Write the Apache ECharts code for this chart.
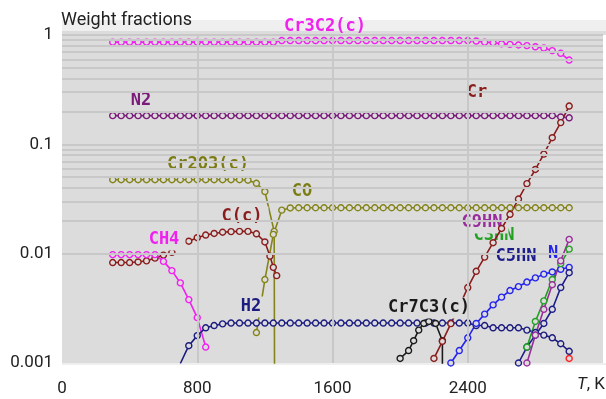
<!DOCTYPE html>
<html><head><meta charset="utf-8">
<script src="https://cdn.jsdelivr.net/npm/echarts@6/dist/echarts.min.js"></script>
<style>html,body{margin:0;padding:0;background:#fff}#c{width:606px;height:399px}</style>
</head><body><div id="c"></div>
<script>
// ---- axis ticks / gridlines ----
const xTicks = [0, 800, 1600, 2400];
const yTicks = [0.001, 0.01, 0.1, 1];
const hGrid = [0.002,0.003,0.004,0.005,0.006,0.007,0.008,0.009,0.01,
               0.02,0.03,0.04,0.05,0.06,0.07,0.08,0.09,0.1,
               0.2,0.3,0.4,0.5,0.6,0.7,0.8,0.9,1];
const vGrid = [800, 1600, 2400];

// ---- temperatures (K) ----
const tFull = [300,350,400,450,500,550,600,650,700,750,800,850,900,950,1000,1050,1100,1150,1200,1250,
  1300,1350,1400,1450,1500,1550,1600,1650,1700,1750,1800,1850,1900,1950,2000,2050,2100,2150,2200,2250,
  2300,2350,2400,2450,2500,2550,2600,2650,2700,2750,2800,2850,2900,2950,3000];

// ---- series values (weight fractions) ----
const cr3c2V = [0.86,0.86,0.86,0.86,0.86,0.86,0.86,0.86,0.86,0.86,0.86,0.86,0.86,0.86,0.86,0.86,0.86,0.86,0.86,0.86,
  0.89,0.89,0.89,0.89,0.89,0.89,0.89,0.89,0.89,0.89,0.89,0.89,0.89,0.89,0.89,0.89,0.89,0.89,0.89,0.89,0.89,0.89,0.89,
  0.88,0.86,0.85,0.83,0.82,0.81,0.80,0.78,0.76,0.72,0.68,0.59];
const n2V = [0.183,0.183,0.183,0.183,0.183,0.183,0.183,0.183,0.183,0.183,0.183,0.183,0.183,0.183,0.183,0.183,0.183,0.183,
  0.183,0.183,0.183,0.183,0.183,0.183,0.183,0.183,0.183,0.183,0.183,0.183,0.183,0.183,0.183,0.183,0.183,0.183,0.183,
  0.183,0.183,0.183,0.183,0.183,0.183,0.183,0.183,0.183,0.183,0.183,0.183,0.183,0.183,0.183,0.183,0.178,0.175];

const cr2o3T = [300,350,400,450,500,550,600,650,700,750,800,850,900,950,1000,1050,1100,1150,1200,1255,1262];
const cr2o3V = [0.0475,0.0475,0.0475,0.0475,0.0475,0.0475,0.0475,0.0475,0.0475,0.0475,0.0475,0.0475,0.0475,0.0475,
  0.0475,0.0475,0.047,0.044,0.037,0.016,0.000001];

const coT = [1150,1200,1250,1300,1350,1400,1450,1500,1550,1600,1650,1700,1750,1800,1850,1900,1950,2000,2050,2100,
  2150,2200,2250,2300,2350,2400,2450,2500,2550,2600,2650,2700,2750,2800,2850,2900,2950,3000];
const coV = [0.0019,0.0058,0.015,0.025,0.0262,0.0263,0.0263,0.0263,0.0263,0.0263,0.0263,0.0263,0.0263,0.0263,0.0263,
  0.0263,0.0263,0.0263,0.0263,0.0263,0.0263,0.0263,0.0263,0.0263,0.0263,0.0263,0.0263,0.0263,0.0263,0.0263,0.0263,
  0.0263,0.0263,0.0263,0.0263,0.0263,0.0263,0.0263];

const ccT = [300,350,400,450,500,550,600,650,700,750,800,850,900,950,1000,1050,1100,1150,1200,1230,1250,1270];
const ccV = [0.0083,0.0083,0.0083,0.0084,0.0086,0.0091,0.0097,0.0103,null,0.0130,0.0140,0.0148,0.0153,0.0157,
  0.0159,0.0160,0.0160,0.0152,0.0128,0.0095,0.0075,0.0063];

const ch4T = [300,350,400,450,500,550,600,650,700,750,800,850];
const ch4V = [0.0098,0.0098,0.0098,0.0098,0.0098,0.0098,0.0085,0.0070,0.0054,0.0038,0.0026,0.0014];

const h2T = [700,750,800,850,900,950,1000,1050,1100,1150,1200,1250,1300,1350,1400,1450,1500,1550,1600,1650,1700,
  1750,1800,1850,1900,1950,2000,2050,2100,2150,2200,2250,2300,2350,2400,2450,2500,2550,2600,2650,2700,2750,2800,
  2850,2900,2950,3000];
const h2V = [0.00099,0.00144,0.00178,0.0021,0.0022,0.00228,0.00232,0.00232,0.00232,0.00232,0.00232,0.00232,0.00232,
  0.00232,0.00232,0.00232,0.00232,0.00232,0.00232,0.00232,0.00232,0.00232,0.00232,0.00232,0.00232,0.00232,0.00232,
  0.00232,0.00232,0.00232,0.00232,0.00232,0.00232,0.00232,0.00232,0.0022,0.0022,0.0021,0.0021,0.0021,0.0021,0.0020,
  0.0019,0.0018,0.0017,0.0015,0.00128];

const cr7c3T = [2000,2050,2080,2110,2140,2170,2210,2250,2252];
const cr7c3V = [0.0011,0.0013,0.0016,0.0020,0.0023,0.0024,0.0023,0.0016,0.000001];

const crT = [2200,2250,2300,2350,2400,2450,2500,2550,2600,2650,2700,2750,2800,2850,2900,2950,3000];
const crV = [0.0011,0.00158,0.00229,0.0033,0.0049,0.0069,0.0093,0.0126,0.017,0.0229,0.0316,0.0437,0.0589,0.0813,
  0.115,0.158,0.224];

const nT = [2300,2350,2400,2450,2500,2550,2600,2650,2700,2750,2800,2850,2900,2950,3000];
const nV = [0.001,0.0013,0.0017,0.0023,0.0028,0.0034,0.0040,0.0046,0.0050,0.0055,0.0060,0.0065,0.0068,0.0072,0.0075];

const c5hnT = [2700,2750,2800,2850,2900,2950,3000];
const c5hnV = [0.001,0.0014,0.0018,0.0023,0.0031,0.0049,0.0067];

const c3hnT = [2750,2800,2850,2900,2950,3000];
const c3hnV = [0.0014,0.0024,0.0037,0.0058,0.0081,0.011];

const c9hnT = [2750,2800,2850,2900,2950,3000];
const c9hnV = [0.001,0.0018,0.0031,0.0052,0.0086,0.0135];

const redT = [3000];
const redV = [0.0011];

// ---- styling ----
const BG = '#dcdcdc';
const seriesDefs = [
  {name:'N2', t:tFull, v:n2V, color:'#7a1a7a'},
  {name:'Cr3C2(c)', t:tFull, v:cr3c2V, color:'#f020f0'},
  {name:'Cr2O3(c)', t:cr2o3T, v:cr2o3V, color:'#84841a'},
  {name:'CO', t:coT, v:coV, color:'#84841a'},
  {name:'C(c)', t:ccT, v:ccV, color:'#8b1c1c'},
  {name:'CH4', t:ch4T, v:ch4V, color:'#f020f0'},
  {name:'H2', t:h2T, v:h2V, color:'#1c1c80'},
  {name:'Cr7C3(c)', t:cr7c3T, v:cr7c3V, color:'#1a1a1a'},
  {name:'N', t:nT, v:nV, color:'#2424ee'},
  {name:'C5HN', t:c5hnT, v:c5hnV, color:'#1c1c8a'},
  {name:'C3HN', t:c3hnT, v:c3hnV, color:'#22a022'},
  {name:'C9HN', t:c9hnT, v:c9hnV, color:'#992d9c'},
  {name:'Cr', t:crT, v:crV, color:'#8b1c1c'},
  {name:'other', t:redT, v:redV, color:'#ff2020'}
];

const labels = [
  {text:'Cr3C2(c)', x:325, y:27, color:'#f020f0', bg:false, z:3},
  {text:'N2', x:141, y:101, color:'#7a1a7a', bg:true, z:3},
  {text:'Cr', x:477, y:93, color:'#8b1c1c', bg:true, z:3},
  {text:'Cr2O3(c)', x:208, y:165, color:'#7c7c14', bg:true, z:3},
  {text:'CO', x:302, y:192, color:'#7c7c14', bg:true, z:3},
  {text:'C(c)', x:242, y:217, color:'#8b1c1c', bg:true, z:3},
  {text:'CH4', x:164, y:240, color:'#f020f0', bg:true, z:3},
  {text:'H2', x:251, y:307, color:'#1c1c80', bg:true, z:3},
  {text:'Cr7C3(c)', x:429, y:308, color:'#1a1a1a', bg:true, z:3},
  {text:'C3HN', x:494, y:236, color:'#22a022', bg:true, z:1.4},
  {text:'C9HN', x:482, y:223, color:'#992d9c', bg:true, z:1.5},
  {text:'C5HN', x:516, y:257, color:'#1c1c8a', bg:true, z:1.5},
  {text:'N', x:553, y:254, color:'#2424ee', bg:true, z:1.5}
];

const chart = echarts.init(document.getElementById('c'), null, {renderer:'canvas'});

const series = seriesDefs.map(d => ({
  name: d.name, type:'line', z:2, animation:false,
  data: d.t.map((x,i) => [x, d.v[i]]),
  symbol:'circle', symbolSize:6, showSymbol:true, clip:true,
  itemStyle:{color:BG, borderColor:d.color, borderWidth:1.4},
  lineStyle:{color:d.color, width:1.6},
  emphasis:{disabled:true}
}));

series.unshift({
  type:'line', data:[], z:1, animation:false, silent:true,
  markLine:{
    silent:true, symbol:['none','none'], animation:false,
    label:{show:false},
    lineStyle:{color:'#c8c8c8', width:2, type:'solid'},
    data: hGrid.map(v => ({yAxis:v})).concat(vGrid.map(v => ({xAxis:v})))
  }
});

const graphics = [
  {type:'rect', left:62, top:20, shape:{width:544, height:11}, style:{fill:'#efefef'}, z:0},
  {type:'rect', left:62, top:31, shape:{width:544, height:4}, style:{fill:BG}, z:0},
  {type:'rect', left:62, top:363, shape:{width:544, height:2}, style:{fill:'#efefef'}, z:0},
  {type:'text', x:61, y:20, z:4, style:{text:'Weight fractions', fill:'#222', font:'18px Roboto', align:'left', verticalAlign:'middle'}},
  {type:'text', x:605, y:385, z:4, style:{text:'{i|T}, K', fill:'#222', font:'17px Roboto', align:'right', verticalAlign:'middle',
     rich:{i:{fontStyle:'italic', fontFamily:'Roboto', fontSize:17, fill:'#222'}}}}
].concat(labels.map(l => ({
  type:'text', x:l.x, y:l.y, z:l.z,
  style:{text:l.text, fill:l.color, font:'bold 17px "DejaVu Sans Mono"', align:'center', verticalAlign:'middle',
    backgroundColor: l.bg ? BG : 'transparent', padding:[2,6]}
})));

chart.setOption({
  animation:false,
  grid:{left:62, right:0, top:35, bottom:36, show:true, backgroundColor:BG, borderWidth:0},
  xAxis:{type:'value', min:0, max:3200, interval:800,
    axisLine:{show:false}, axisTick:{show:false}, splitLine:{show:false},
    axisLabel:{margin:17, color:'#222', fontFamily:'Roboto', fontSize:17,
      formatter: v => xTicks.indexOf(v) >= 0 ? String(v) : ''}},
  yAxis:{type:'log', logBase:10, min:0.001, max:1,
    axisLine:{show:false}, axisTick:{show:false}, splitLine:{show:false}, minorSplitLine:{show:false},
    axisLabel:{margin:9, color:'#222', fontFamily:'Roboto', fontSize:17,
      formatter: v => { let best = yTicks[0]; yTicks.forEach(t => { if (Math.abs(Math.log10(t) - Math.log10(v)) < Math.abs(Math.log10(best) - Math.log10(v))) best = t; }); return String(best); }}},
  series: series,
  graphic: {elements: graphics}
});
</script>
</body></html>
